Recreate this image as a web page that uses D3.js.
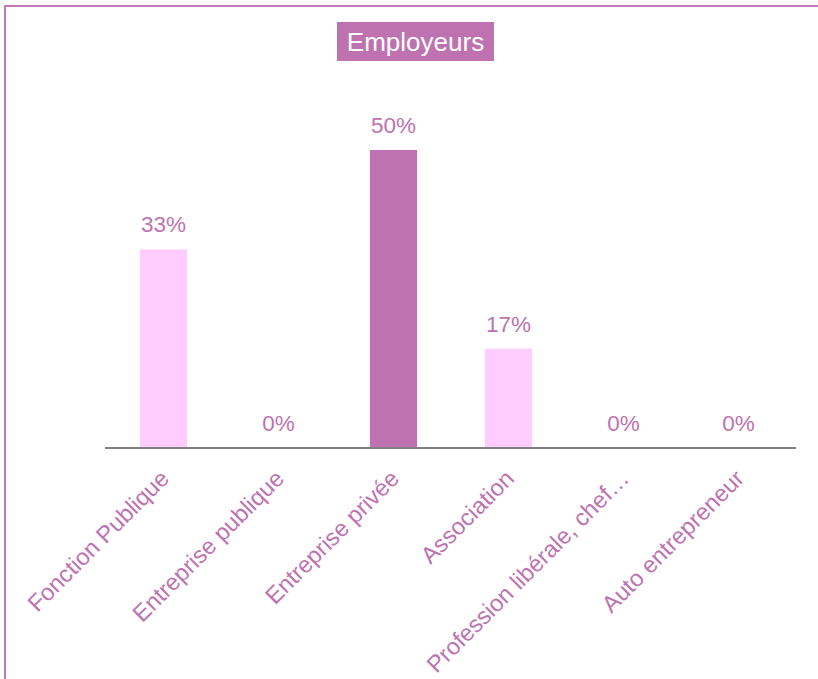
<!DOCTYPE html>
<meta charset="utf-8">
<style>
  body { margin: 0; background: #fff; font-family: "Liberation Sans", Arial, sans-serif; }
</style>
<script src="https://d3js.org/d3.v7.min.js"></script>
<body>
<div id="chart"></div>
<script>
  // données
  const categories = ["Fonction Publique", "Entreprise publique", "Entreprise privée",
                      "Association", "Profession libérale, chef…", "Auto entrepreneur"];
  const values = [33.33, 0, 50, 16.67, 0, 0];
  const labels = ["33%", "0%", "50%", "17%", "0%", "0%"];
  const title = "Employeurs";

  const W = 818, H = 679;
  const purple = "#be72b0", pink = "#ffccff";
  const baseY = 448;

  const svg = d3.select("#chart").append("svg")
    .attr("width", W).attr("height", H);

  // cadre
  svg.append("rect")
    .attr("x", 5).attr("y", 6).attr("width", W + 20).attr("height", H + 20)
    .attr("fill", "none").attr("stroke", "#c07ab8").attr("stroke-width", 2);

  const x = d3.scaleBand().domain(categories).range([106, 796]).paddingInner(0.59).paddingOuter(0.295);
  const y = d3.scaleLinear().domain([0, 100]).range([baseY, baseY - 596]);

  // barres
  svg.selectAll(".bar")
    .data(categories)
    .join("rect")
    .attr("x", d => x(d))
    .attr("width", x.bandwidth())
    .attr("y", (d, i) => y(values[i]))
    .attr("height", (d, i) => baseY - y(values[i]))
    .attr("fill", (d, i) => values[i] === d3.max(values) ? purple : pink);

  // axe
  svg.append("line")
    .attr("x1", 105).attr("x2", 796)
    .attr("y1", baseY).attr("y2", baseY)
    .attr("stroke", "#808080").attr("stroke-width", 2);

  // valeurs
  svg.selectAll(".val")
    .data(categories)
    .join("text")
    .attr("x", d => x(d) + x.bandwidth() / 2)
    .attr("y", (d, i) => y(values[i]) - 17)
    .attr("text-anchor", "middle")
    .attr("font-size", 22.5)
    .attr("fill", purple)
    .text((d, i) => labels[i]);

  // étiquettes inclinées
  svg.selectAll(".cat")
    .data(categories)
    .join("text")
    .attr("transform", d => `translate(${x(d) + x.bandwidth() / 2 + 7},${baseY + 32}) rotate(-45)`)
    .attr("text-anchor", "end")
    .attr("font-size", 23.5)
    .attr("fill", purple)
    .text(d => d);

  // titre
  svg.append("rect")
    .attr("x", 337).attr("y", 22).attr("width", 157).attr("height", 39)
    .attr("fill", purple);
  svg.append("text")
    .attr("x", 415.5).attr("y", 50.5)
    .attr("text-anchor", "middle")
    .attr("font-size", 26)
    .attr("fill", "#fff")
    .text(title);
</script>
</body>
